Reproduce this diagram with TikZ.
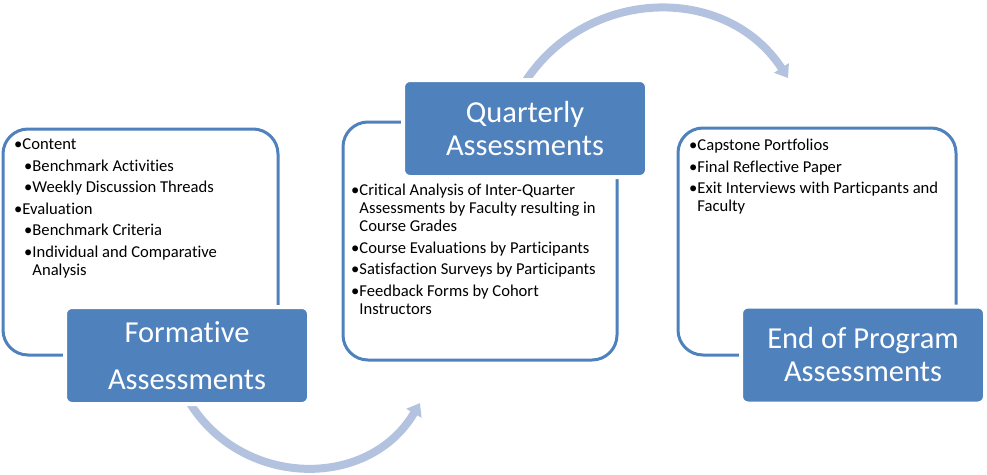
\documentclass[tikz,border=0pt]{standalone}
\usepackage{fontspec}
\setmainfont{Carlito}[Ligatures={NoCommon}]
\usetikzlibrary{arrows.meta}
\definecolor{accent}{HTML}{4F81BD}
\definecolor{arcblue}{HTML}{B3C3DF}
\begin{document}
\begin{tikzpicture}[x=1pt,y=-1pt,
  panel/.style={draw=accent, line width=3pt, fill=white, rounded corners=25pt, inner sep=0pt},
  tag/.style={fill=accent, draw=white, line width=4pt, rounded corners=7pt, text=white,
    font=\fontsize{30.5}{33}\selectfont, align=center, inner sep=0pt,
    minimum width=244pt, minimum height=97pt},
  items/.style={font=\fontsize{16.6}{18}\selectfont, align=left, anchor=north west, inner sep=0pt},
  flow/.style={draw=arcblue, line width=8pt, -{Triangle[width=17pt,length=12pt]}}
]
\useasboundingbox (0,0) rectangle (987,474);

% panels
\node[panel, minimum width=275pt, minimum height=226pt] (p1) at (140.5,242) {};
\node[panel, minimum width=274pt, minimum height=238pt] (p2) at (480,241) {};
\node[panel, minimum width=278pt, minimum height=227pt] (p3) at (817,241.5) {};

% bullet texts
\node[items] (t1) at (14,139) {%
•Content\\[3.5pt]
\hspace*{10pt}•Benchmark Activities\\[3.5pt]
\hspace*{10pt}•Weekly Discussion Threads\\[3.5pt]
•Evaluation\\[3.5pt]
\hspace*{10pt}•Benchmark Criteria\\[3.5pt]
\hspace*{10pt}•Individual and Comparative\\
\hspace*{10pt}\hphantom{•}Analysis};

\node[items] (t2) at (351,184) {%
•Critical Analysis of Inter-Quarter\\
\hphantom{•}Assessments by Faculty resulting in\\
\hphantom{•}Course Grades\\[3.5pt]
•Course Evaluations by Participants\\[3.5pt]
•Satisfaction Surveys by Participants\\[3.5pt]
•Feedback Forms by Cohort\\
\hphantom{•}Instructors};

\node[items] (t3) at (689,139) {%
•Capstone Portfolios\\[3.5pt]
•Final Reflective Paper\\[3.5pt]
•Exit Interviews with Particpants and\\
\hphantom{•}Faculty};

% flow arrows
\coordinate (e1) at (420,403);
\coordinate (e2) at (788,78);
\coordinate (s1) at (188,400);
\coordinate (s2) at (525,82);
\draw[flow] (s1) .. controls +(52,88) and +(-52,88) .. (e1);
\draw[flow] (s2) .. controls +(62,-95) and +(-62,-95) .. (e2);

% labels
\node[tag] (l1) at (187,355.5) {Formative\\[14pt]Assessments};
\node[tag] (l2) at (525,128.5) {Quarterly\\Assessments};
\node[tag] (l3) at (863,355) {End of Program\\Assessments};
\end{tikzpicture}
\end{document}
